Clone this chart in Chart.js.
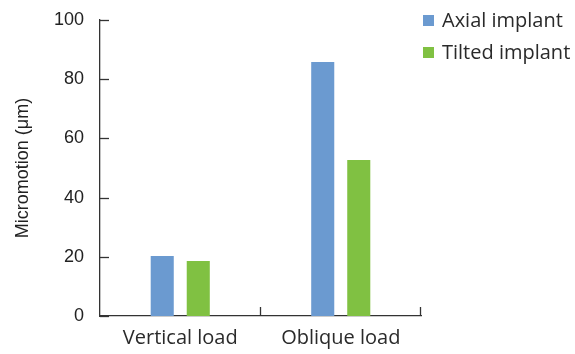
<!DOCTYPE html>
<html><head><meta charset="utf-8">
<script src="https://cdn.jsdelivr.net/npm/chart.js@4"></script>
<style>html,body{margin:0;padding:0;background:#fff}#wrap{width:575px;height:354px}</style>
</head><body><div id="wrap"><canvas id="c"></canvas></div>
<script>
const categories = ["Vertical load", "Oblique load"];
const seriesNames = ["Axial implant", "Tilted implant"];
const axialValues = [20.3, 85.8];
const tiltedValues = [18.6, 52.7];
const yTicks = [0, 20, 40, 60, 80, 100];
const colors = ["#6b9ad0", "#80c142"];

const inwardTicks = {
  id: 'inwardTicks',
  afterDraw(chart) {
    const ctx = chart.ctx, y = chart.scales.y, x = chart.scales.x;
    ctx.save();
    ctx.strokeStyle = '#333';
    ctx.lineWidth = 1.3;
    y.ticks.forEach((t, i) => {
      const py = Math.round(y.getPixelForTick(i)) + 0.5;
      ctx.beginPath(); ctx.moveTo(x.left, py); ctx.lineTo(x.left + 9, py); ctx.stroke();
    });
    const n = categories.length;
    for (let i = 1; i <= n; i++) {
      const px = Math.round(x.left + i * (x.right - x.left) / n) - 0.5;
      ctx.beginPath(); ctx.moveTo(px, y.bottom); ctx.lineTo(px, y.bottom - 9); ctx.stroke();
    }
    // legend
    ctx.font = '20px "Open Sans"';
    ctx.textBaseline = 'alphabetic';
    chart.data.datasets.forEach((ds, i) => {
      const top = 15 + i * 32;
      ctx.fillStyle = ds.backgroundColor;
      ctx.fillRect(423, top, 11, 11);
      ctx.fillStyle = '#2a2a2a';
      ctx.fillText(ds.label, 442, top + 12);
    });
    ctx.restore();
  }
};

new Chart(document.getElementById('c'), {
  type: 'bar',
  data: {
    labels: categories,
    datasets: [
      { label: seriesNames[0], data: axialValues, backgroundColor: colors[0] },
      { label: seriesNames[1], data: tiltedValues, backgroundColor: colors[1] }
    ]
  },
  options: {
    responsive: true,
    maintainAspectRatio: false,
    animation: false,
    devicePixelRatio: 1,
    layout: { padding: { top: 20, right: 154, left: 0, bottom: 0 } },
    datasets: { bar: { categoryPercentage: 0.449, barPercentage: 0.64 } },
    plugins: { legend: { display: false }, tooltip: { enabled: false } },
    scales: {
      x: {
        afterFit(s) { s.height = 38; s.paddingLeft = 0; s.paddingRight = 0; },
        grid: { display: false, drawTicks: false },
        border: { display: true, color: '#333', width: 1.3 },
        ticks: { color: '#2a2a2a', font: { family: 'Open Sans', size: 20 }, padding: 10 }
      },
      y: {
        min: 0, max: 100,
        afterFit(s) { s.width = 100; s.paddingTop = 0; s.paddingBottom = 0; },
        afterBuildTicks(s) { s.ticks = yTicks.map(v => ({ value: v })); },
        grid: { display: false, drawTicks: false },
        border: { display: true, color: '#333', width: 1.3 },
        ticks: { color: '#222', font: { family: 'Liberation Sans', size: 18 }, padding: 16 },
        title: { display: true, text: 'Micromotion (μm)', color: '#222', font: { family: 'Liberation Sans', size: 18 }, padding: { top: 12 } }
      }
    }
  },
  plugins: [inwardTicks]
});
</script></body></html>
